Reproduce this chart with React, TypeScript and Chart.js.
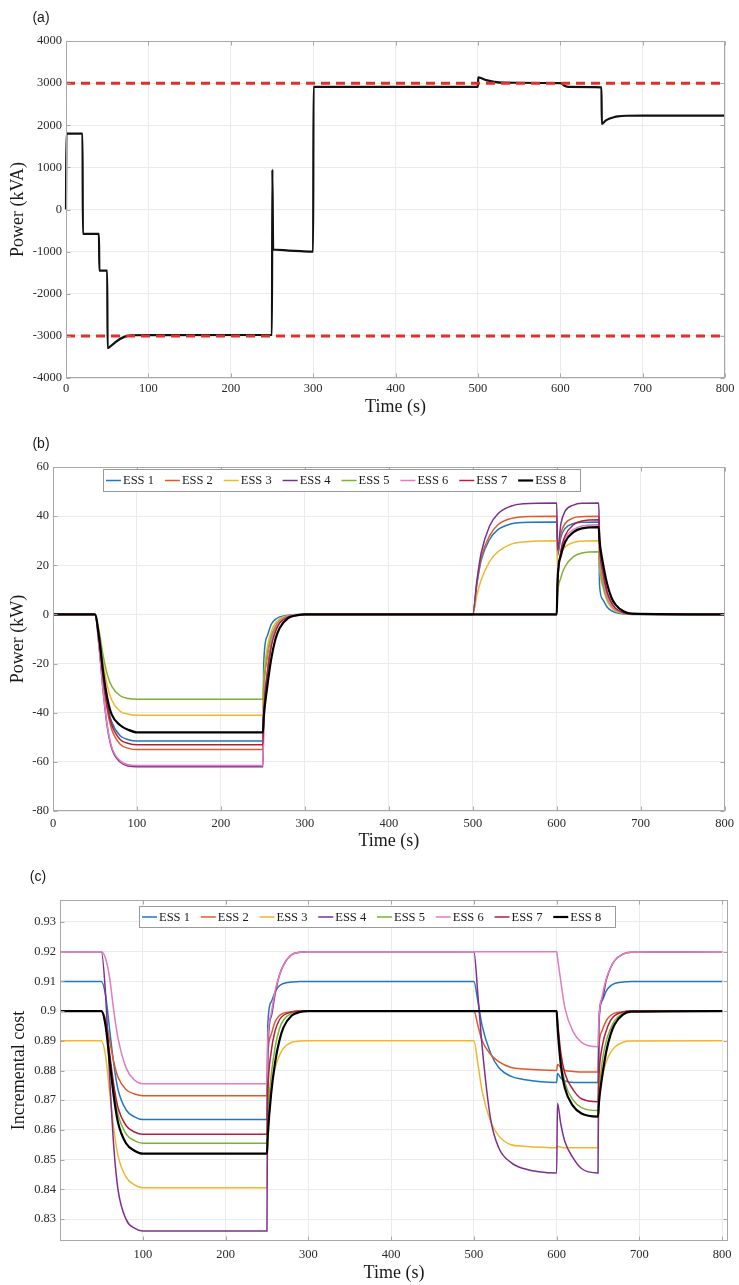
import React, { useEffect, useRef } from 'react';
import { Chart, registerables } from 'chart.js';

Chart.register(...registerables);

// ---------------- Panel (a) data ----------------
const TIME_A = [0, 0.5, 20, 20.5, 40, 40.5, 50, 50.5, 55, 60, 65, 70, 75, 80, 100, 250, 250.5, 251.5, 255, 270, 285, 300, 300.5, 500, 500.5, 505, 510, 520, 530, 600, 605, 610, 650, 650.5, 655, 660, 665, 670, 680, 700, 800];
const POWER_A = [0, 1800, 1800, -580, -580, -1450, -1450, -3290, -3230, -3150, -3080, -3030, -3000, -2985, -2980, -2975, 950, -950, -955, -975, -990, -1000, 2910, 2910, 3140, 3110, 3070, 3030, 3010, 3000, 2940, 2910, 2900, 2030, 2110, 2160, 2190, 2210, 2225, 2230, 2230];
const LIMIT_TIME = [0, 800];
const UPPER_LIMIT = [3000, 3000];
const LOWER_LIMIT = [-3000, -3000];

// ---------------- Panels (b) & (c) shared time grid ----------------
const TIME_BC = [0, 50, 55, 60, 65, 70, 80, 90, 100, 250, 251, 255, 260, 265, 270, 280, 290, 300, 500, 505, 510, 520, 530, 545, 560, 600, 601, 605, 610, 620, 630, 650, 651, 655, 660, 665, 670, 680, 690, 800];

// Panel (b): ESS power (kW)
const ESS1_P = [0, 0, -10.3, -25.8, -37.1, -43.8, -49.4, -51, -51.5, -51.5, -20, -9, -4, -2, -1, -0.3, 0, 0, 0, 12.5, 22, 30.5, 34.5, 36.8, 37.4, 37.6, 24, 31.5, 35, 37, 37.5, 37.6, 12, 6, 3, 1.5, 0.8, 0.2, 0, 0];
const ESS2_P = [0, 0, -11, -27.5, -39.6, -46.8, -52.8, -54.5, -55, -55, -35, -18, -9, -5, -2.5, -0.7, -0.2, 0, 0, 13, 23, 32, 36.5, 39, 39.8, 40, 25, 33, 37, 39.3, 39.8, 40, 26, 14, 7, 3.5, 1.8, 0.5, 0.1, 0];
const ESS3_P = [0, 0, -8.2, -20.5, -29.5, -34.9, -39.4, -40.6, -41, -41, -28, -14, -7, -3.5, -1.8, -0.5, -0.1, 0, 0, 8, 14, 21.5, 25.5, 28.5, 29.5, 30, 20, 25, 27.5, 29.3, 29.8, 30, 20, 11, 5.5, 2.8, 1.4, 0.4, 0.1, 0];
const ESS4_P = [0, 0, -13.6, -32.2, -46.5, -54.6, -60.1, -61.7, -62, -62, -45, -25, -12, -6, -3, -0.8, -0.2, 0, 0, 14, 25, 36, 41, 44, 45, 45.3, 26, 37, 42, 44.5, 45.2, 45.3, 32, 18, 9, 4.5, 2.2, 0.6, 0.1, 0];
const ESS5_P = [0, 0, -6.9, -17.3, -24.8, -29.3, -33.1, -34.2, -34.5, -34.5, -28, -17, -9, -5, -2.5, -0.7, -0.2, 0, 0, 0, 0, 0, 0, 0, 0, 0, 8, 15, 19.5, 23.5, 25, 25.5, 20, 12, 6.5, 3.5, 1.8, 0.5, 0.1, 0];
const ESS6_P = [0, 0, -13.5, -32, -46, -54, -59.6, -61.2, -61.5, -61.5, -42, -24, -12, -6, -3, -0.8, -0.2, 0, 0, 0, 0, 0, 0, 0, 0, 0, 12, 25, 31, 34.5, 36, 36.5, 26, 15, 7.5, 4, 2, 0.6, 0.1, 0];
const ESS7_P = [0, 0, -10.6, -26.5, -38.2, -45, -50.9, -52.5, -53, -53, -40, -25, -13, -7, -3.5, -1, -0.3, 0, 0, 0, 0, 0, 0, 0, 0, 0, 12, 26, 32, 36.5, 38, 38.5, 28, 17, 9, 5, 2.5, 0.7, 0.2, 0];
const ESS8_P = [0, 0, -9.6, -24, -34.6, -40.8, -45.1, -47, -48, -48, -42, -30, -18, -10, -5.5, -1.5, -0.4, 0, 0, 0, 0, 0, 0, 0, 0, 0, 14, 24, 29.5, 33.5, 35, 35.5, 30, 21, 12.5, 7, 4, 1.2, 0.3, 0];

// Panel (c): incremental cost
const ESS1_C = [0.91, 0.91, 0.9054, 0.8937, 0.8821, 0.8737, 0.8667, 0.8644, 0.8635, 0.8635, 0.895, 0.903, 0.9065, 0.9085, 0.9093, 0.9098, 0.91, 0.91, 0.91, 0.903, 0.895, 0.886, 0.881, 0.878, 0.877, 0.876, 0.879, 0.8775, 0.8765, 0.876, 0.876, 0.876, 0.897, 0.9035, 0.9068, 0.9085, 0.9093, 0.9098, 0.91, 0.91];
const ESS2_C = [0.9, 0.9, 0.8972, 0.89, 0.8829, 0.8778, 0.8735, 0.8721, 0.8715, 0.8715, 0.885, 0.892, 0.8965, 0.8985, 0.8993, 0.8998, 0.9, 0.9, 0.9, 0.895, 0.89, 0.8855, 0.883, 0.881, 0.8805, 0.88, 0.882, 0.881, 0.88, 0.8797, 0.8795, 0.8795, 0.888, 0.8935, 0.8968, 0.8985, 0.8993, 0.8998, 0.9, 0.9];
const ESS3_C = [0.89, 0.89, 0.885, 0.8727, 0.8603, 0.8514, 0.844, 0.8415, 0.8405, 0.8405, 0.862, 0.874, 0.881, 0.885, 0.8875, 0.8895, 0.8899, 0.89, 0.89, 0.882, 0.873, 0.863, 0.858, 0.855, 0.8545, 0.854, 0.8545, 0.8542, 0.854, 0.854, 0.854, 0.854, 0.87, 0.878, 0.883, 0.886, 0.8878, 0.8895, 0.8899, 0.89];
const ESS4_C = [0.92, 0.92, 0.9059, 0.8777, 0.8542, 0.8401, 0.8298, 0.8269, 0.826, 0.826, 0.885, 0.898, 0.906, 0.912, 0.9155, 0.919, 0.9198, 0.92, 0.92, 0.905, 0.888, 0.864, 0.854, 0.849, 0.847, 0.8455, 0.869, 0.862, 0.856, 0.8505, 0.847, 0.8455, 0.895, 0.904, 0.9105, 0.9145, 0.917, 0.9192, 0.9198, 0.92];
const ESS5_C = [0.9, 0.9, 0.8956, 0.8844, 0.8733, 0.8653, 0.8586, 0.8564, 0.8555, 0.8555, 0.864, 0.878, 0.888, 0.894, 0.897, 0.8993, 0.8999, 0.9, 0.9, 0.9, 0.9, 0.9, 0.9, 0.9, 0.9, 0.9, 0.896, 0.884, 0.876, 0.87, 0.8675, 0.8665, 0.872, 0.883, 0.89, 0.894, 0.8968, 0.8992, 0.8999, 0.9];
const ESS6_C = [0.92, 0.92, 0.9178, 0.9111, 0.9, 0.8911, 0.8808, 0.8768, 0.8755, 0.8755, 0.89, 0.899, 0.907, 0.912, 0.9155, 0.919, 0.9198, 0.92, 0.92, 0.92, 0.92, 0.92, 0.92, 0.92, 0.92, 0.92, 0.918, 0.91, 0.901, 0.893, 0.8895, 0.888, 0.897, 0.905, 0.911, 0.9145, 0.917, 0.9192, 0.9198, 0.92];
const ESS7_C = [0.9, 0.9, 0.8959, 0.8855, 0.8751, 0.8676, 0.8614, 0.8593, 0.8585, 0.8585, 0.872, 0.886, 0.8935, 0.897, 0.8986, 0.8997, 0.9, 0.9, 0.9, 0.9, 0.9, 0.9, 0.9, 0.9, 0.9, 0.9, 0.897, 0.886, 0.879, 0.8735, 0.8705, 0.8695, 0.878, 0.888, 0.8935, 0.8968, 0.8985, 0.8997, 0.9, 0.9];
const ESS8_C = [0.9, 0.9, 0.8952, 0.8832, 0.8712, 0.8626, 0.8554, 0.853, 0.852, 0.852, 0.858, 0.872, 0.883, 0.89, 0.8945, 0.8985, 0.8997, 0.9, 0.9, 0.9, 0.9, 0.9, 0.9, 0.9, 0.9, 0.9, 0.895, 0.882, 0.874, 0.868, 0.8655, 0.8645, 0.869, 0.878, 0.8865, 0.892, 0.8955, 0.8988, 0.8998, 0.9];

// ---------------- Labels & ticks ----------------
const ESS_LABELS = ['ESS 1', 'ESS 2', 'ESS 3', 'ESS 4', 'ESS 5', 'ESS 6', 'ESS 7', 'ESS 8'];
const X_TICKS_AB = [0, 100, 200, 300, 400, 500, 600, 700, 800];
const X_TICKS_C = [100, 200, 300, 400, 500, 600, 700, 800];
const Y_TICKS_A = [-4000, -3000, -2000, -1000, 0, 1000, 2000, 3000, 4000];
const Y_TICKS_B = [-80, -60, -40, -20, 0, 20, 40, 60];
const Y_TICKS_C = [0.83, 0.84, 0.85, 0.86, 0.87, 0.88, 0.89, 0.9, 0.91, 0.92, 0.93];

// ---------------- Styles ----------------
const W = 739;
const SERIF = '"Liberation Serif", "Times New Roman", serif';
const SANS = '"Liberation Sans", Arial, sans-serif';
const GRID = '#ebebeb';
const BOX = '#a8a8a8';
const TICK_COLOR = '#2b2b2b';
const TITLE_COLOR = '#1a1a1a';
const ESS_COLORS = ['#1f77c4', '#e0592a', '#efb72a', '#7e2f8e', '#7bb234', '#e27bc2', '#b0203e', '#000000'];
const ESS_WIDTHS = [1.5, 1.5, 1.5, 1.5, 1.5, 1.5, 1.5, 2.2];

const fmt = (v: any) => String(Math.round(Number(v) * 10000) / 10000);

const framePlugin = {
  id: 'frame',
  afterDatasetsDraw(chart: any, _args: any, opts: any) {
    const { ctx, chartArea: ca, scales } = chart;
    ctx.save();
    ctx.strokeStyle = BOX;
    ctx.lineWidth = 1;
    const l = Math.round(ca.left) + 0.5;
    const t = Math.round(ca.top) + 0.5;
    const r = Math.round(ca.right) - 0.5;
    const b = Math.round(ca.bottom) - 0.5;
    ctx.strokeRect(l, t, r - l, b - t);
    ctx.beginPath();
    for (const tk of scales.x.ticks) {
      const px = Math.round(scales.x.getPixelForValue(tk.value)) + 0.5;
      ctx.moveTo(px, b); ctx.lineTo(px, b - 4);
      ctx.moveTo(px, t); ctx.lineTo(px, t + 4);
    }
    for (const tk of scales.y.ticks) {
      const py = Math.round(scales.y.getPixelForValue(tk.value)) + 0.5;
      ctx.moveTo(l, py); ctx.lineTo(l + 4, py);
      ctx.moveTo(r, py); ctx.lineTo(r - 4, py);
    }
    ctx.stroke();

    // panel letter
    ctx.fillStyle = TITLE_COLOR;
    ctx.font = `14px ${SANS}`;
    ctx.textAlign = 'center';
    ctx.textBaseline = 'middle';
    ctx.fillText(opts.letter, opts.letterX, opts.letterY);

    // legend
    if (opts.legend) {
      const lg = opts.legend;
      ctx.fillStyle = '#ffffff';
      ctx.fillRect(lg.x, lg.y, lg.w, lg.h);
      ctx.strokeStyle = '#9a9a9a';
      ctx.lineWidth = 1;
      ctx.strokeRect(lg.x + 0.5, lg.y + 0.5, lg.w, lg.h);
      const step = (lg.w - 6) / ESS_LABELS.length;
      const cy = lg.y + lg.h / 2 + 0.5;
      ctx.font = `12.5px ${SERIF}`;
      ctx.textAlign = 'left';
      ctx.textBaseline = 'middle';
      ESS_LABELS.forEach((lab, i) => {
        const x = lg.x + 3 + i * step;
        ctx.strokeStyle = ESS_COLORS[i];
        ctx.lineWidth = ESS_WIDTHS[i];
        ctx.beginPath();
        ctx.moveTo(x, cy);
        ctx.lineTo(x + 15, cy);
        ctx.stroke();
        ctx.fillStyle = TITLE_COLOR;
        ctx.fillText(lab, x + 17, cy + 0.5);
      });
    }
    ctx.restore();
  },
};

interface Spec {
  height: number;
  left: number; top: number; right: number; bottom: number;
  xMin: number; xMax: number; xTicks: number[];
  yMin: number; yMax: number; yTicks: number[];
  yTitle: string; yTitlePad: number; xTitlePad: number; xTickPad: number;
  letter: string; letterX: number; letterY: number;
  legend?: { x: number; y: number; w: number; h: number };
  datasets: any[];
}

function buildConfig(s: Spec): any {
  const tickFont = { family: SERIF, size: 12.5 };
  const titleFont = { family: SERIF, size: 18 };
  return {
    type: 'line',
    data: { datasets: s.datasets },
    options: {
      responsive: false,
      animation: false,
      devicePixelRatio: 1,
      layout: { padding: { left: 0, top: s.top, right: W - s.right, bottom: 0 } },
      elements: { point: { radius: 0 }, line: { cubicInterpolationMode: 'monotone' } },
      plugins: {
        legend: { display: false },
        tooltip: { enabled: false },
        frame: { letter: s.letter, letterX: s.letterX, letterY: s.letterY, legend: s.legend },
      },
      scales: {
        x: {
          type: 'linear',
          min: s.xMin,
          max: s.xMax,
          afterBuildTicks: (sc: any) => { sc.ticks = s.xTicks.map((v) => ({ value: v })); },
          afterFit: (sc: any) => { sc.height = s.height - s.bottom; },
          grid: { color: GRID, drawTicks: false },
          border: { display: false },
          ticks: { padding: s.xTickPad, color: TICK_COLOR, font: tickFont, callback: fmt, maxRotation: 0, autoSkip: false },
          title: { display: true, text: 'Time (s)', color: TITLE_COLOR, font: titleFont, padding: { top: 0, bottom: s.xTitlePad } },
        },
        y: {
          type: 'linear',
          min: s.yMin,
          max: s.yMax,
          afterBuildTicks: (sc: any) => { sc.ticks = s.yTicks.map((v) => ({ value: v })); },
          afterFit: (sc: any) => { sc.width = s.left; },
          grid: { color: GRID, drawTicks: false },
          border: { display: false },
          ticks: { padding: 4, color: TICK_COLOR, font: tickFont, callback: fmt, autoSkip: false },
          title: { display: true, text: s.yTitle, color: TITLE_COLOR, font: titleFont, padding: { top: s.yTitlePad, bottom: 0 } },
        },
      },
    },
    plugins: [framePlugin],
  };
}

const pts = (xs: number[], ys: number[]) => xs.map((x, i) => ({ x, y: ys[i] }));

function essDatasets(series: number[][]) {
  return series.map((vals, i) => ({
    label: ESS_LABELS[i],
    data: pts(TIME_BC, vals),
    borderColor: ESS_COLORS[i],
    borderWidth: ESS_WIDTHS[i],
    order: ESS_LABELS.length - i,
    pointRadius: 0,
    fill: false,
    clip: 2,
    cubicInterpolationMode: 'monotone',
  }));
}

const specA: Spec = {
  height: 425, left: 66, top: 41, right: 725, bottom: 378,
  xMin: 0, xMax: 800, xTicks: X_TICKS_AB,
  yMin: -4000, yMax: 4000, yTicks: Y_TICKS_A,
  yTitle: 'Power (kVA)', yTitlePad: 7, xTitlePad: 7, xTickPad: 3,
  letter: '(a)', letterX: 41, letterY: 18,
  datasets: [
    { label: 'Upper limit', data: pts(LIMIT_TIME, UPPER_LIMIT), borderColor: '#e0302a', borderWidth: 3, borderDash: [9, 6], order: 0, pointRadius: 0 },
    { label: 'Lower limit', data: pts(LIMIT_TIME, LOWER_LIMIT), borderColor: '#e0302a', borderWidth: 3, borderDash: [9, 6], order: 0, pointRadius: 0 },
    { label: 'Power', data: pts(TIME_A, POWER_A), borderColor: '#111111', borderWidth: 2.2, order: 1, pointRadius: 0, clip: 3, cubicInterpolationMode: 'monotone' },
  ],
};

const specB: Spec = {
  height: 430, left: 53, top: 42, right: 726, bottom: 386,
  xMin: 0, xMax: 800, xTicks: X_TICKS_AB,
  yMin: -80, yMax: 60, yTicks: Y_TICKS_B,
  yTitle: 'Power (kW)', yTitlePad: 7, xTitlePad: 3, xTickPad: 5,
  letter: '(b)', letterX: 41, letterY: 19,
  legend: { x: 103, y: 44, w: 477, h: 22 },
  datasets: essDatasets([ESS1_P, ESS2_P, ESS3_P, ESS4_P, ESS5_P, ESS6_P, ESS7_P, ESS8_P]),
};

const specC: Spec = {
  height: 430, left: 60, top: 45, right: 728, bottom: 386,
  xMin: 0, xMax: 807, xTicks: X_TICKS_C,
  yMin: 0.8226, yMax: 0.9374, yTicks: Y_TICKS_C,
  yTitle: 'Incremental cost', yTitlePad: 8, xTitlePad: 1, xTickPad: 6,
  letter: '(c)', letterX: 38, letterY: 22,
  legend: { x: 139, y: 51, w: 476, h: 21 },
  datasets: essDatasets([ESS1_C, ESS2_C, ESS3_C, ESS4_C, ESS5_C, ESS6_C, ESS7_C, ESS8_C]),
};

function Panel({ spec, top }: { spec: Spec; top: number }) {
  const ref = useRef<HTMLCanvasElement | null>(null);
  useEffect(() => {
    if (!ref.current) return;
    const chart = new Chart(ref.current, buildConfig(spec));
    return () => chart.destroy();
  }, [spec]);
  return (
    <canvas
      ref={ref}
      width={W}
      height={spec.height}
      style={{ position: 'absolute', left: 0, top, width: W, height: spec.height, display: 'block' }}
    />
  );
}

export default function App() {
  return (
    <div style={{ position: 'absolute', left: 0, top: 0, width: W, height: 1285, background: '#ffffff', overflow: 'hidden' }}>
      <Panel spec={specA} top={0} />
      <Panel spec={specB} top={425} />
      <Panel spec={specC} top={855} />
    </div>
  );
}
